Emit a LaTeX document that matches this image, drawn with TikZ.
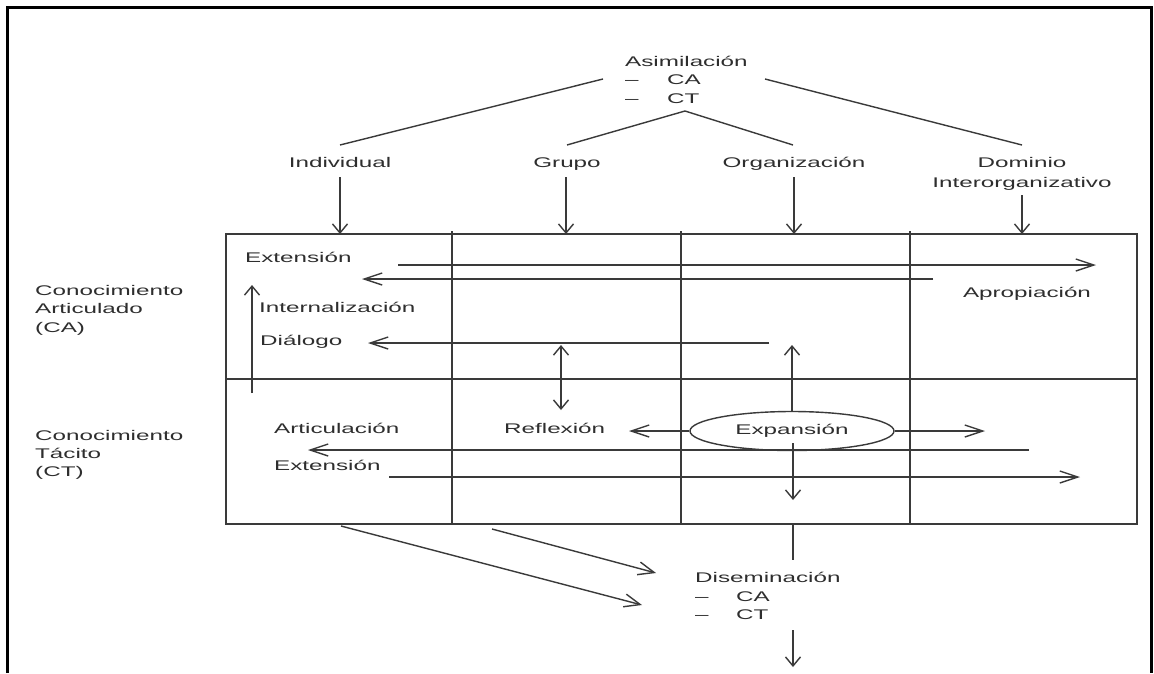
\documentclass[tikz,border=0pt]{standalone}
\usepackage{fontspec}
\setmainfont{Liberation Sans}[FakeStretch=1.73]
\usetikzlibrary{arrows.meta,shapes.geometric}
\definecolor{ink}{HTML}{2E2E2E}
\definecolor{rule}{HTML}{3A3A3A}
\begin{document}
\begin{tikzpicture}[x=1pt,y=-1pt,
  lbl/.style={font=\fontsize{14}{18.5}\selectfont, text=ink, inner sep=0pt},
  grid/.style={draw=rule, line width=1.8pt},
  conn/.style={draw=rule, line width=1.4pt},
  varr/.style={conn, -{Straight Barb[length=9pt,width=15pt]}},
  harr/.style={conn, -{Straight Barb[length=18pt,width=12pt]}},
  hboth/.style={conn, {Straight Barb[length=9pt,width=15pt]}-{Straight Barb[length=9pt,width=15pt]}},
  darr/.style={conn, -{Straight Barb[length=16pt,width=13pt]}},
]
\useasboundingbox (0,0) rectangle (1154,673);
\fill[white] (0,0) rectangle (1154,673);

% outer frame, open at the bottom
\draw[line width=3pt, black] (7,673) -- (7,7) -- (1151.5,7) -- (1151.5,673);

% ---------- assimilation block ----------
\node[lbl, anchor=base west] (asim)  at (625,66)  {Asimilación};
\node[lbl, anchor=base west] (asimA) at (625,84.5){\makebox[42pt][l]{–}CA};
\node[lbl, anchor=base west] (asimT) at (625,103) {\makebox[42pt][l]{–}CT};

\coordinate (asimL) at (603,79);
\coordinate (asimR) at (765,79);
\coordinate (asimM) at (685,111);

% ---------- levels ----------
\node[lbl, anchor=base] (ind) at (340,167)  {Individual};
\node[lbl, anchor=base] (grp) at (567,167)  {Grupo};
\node[lbl, anchor=base] (org) at (794,167)  {Organización};
\node[lbl, anchor=base] (dom) at (1022,167) {Dominio};
\node[lbl, anchor=base] (domb) at (1022,187) {Interorganizativo};

\coordinate (indTop) at (340,145);
\coordinate (grpTop) at (567,145);
\coordinate (orgTop) at (793,145);
\coordinate (domTop) at (1022,145);

\draw[conn] (asimL) -- (indTop);
\draw[conn] (asimR) -- (domTop);
\draw[conn] (grpTop) -- (asimM) -- (orgTop);

% ---------- grid ----------
\coordinate (gNW) at (226,234);
\coordinate (gSE) at (1137,524);
\draw[grid] (gNW) rectangle (gSE);
\draw[grid] (226,379) -- (1137,379);
\foreach \gx in {452,681,910} \draw[grid] (\gx,231) -- (\gx,524);

% arrows from the levels into the grid
\coordinate (indA) at (340,177);  \coordinate (indB) at (340,234);
\coordinate (grpA) at (566,177);  \coordinate (grpB) at (566,234);
\coordinate (orgA) at (794,177);  \coordinate (orgB) at (794,234);
\coordinate (domA) at (1022,195); \coordinate (domB) at (1022,234);
\draw[varr] (indA) -- (indB);
\draw[varr] (grpA) -- (grpB);
\draw[varr] (orgA) -- (orgB);
\draw[varr] (domA) -- (domB);

% ---------- row labels ----------
\node[lbl, anchor=base west] (caA) at (35,295) {Conocimiento};
\node[lbl, anchor=base west] (caB) at (35,313) {Articulado};
\node[lbl, anchor=base west] (caC) at (35,332) {(CA)};
\node[lbl, anchor=base west] (ctA) at (35,440) {Conocimiento};
\node[lbl, anchor=base west] (ctB) at (35,458) {Tácito};
\node[lbl, anchor=base west] (ctC) at (35,476) {(CT)};

% ---------- articulated knowledge row ----------
\node[lbl, anchor=base west] (ext1) at (245,262) {Extensión};
\node[lbl, anchor=base west] (intl) at (259,312) {Internalización};
\node[lbl, anchor=base west] (dial) at (260,345) {Diálogo};
\node[lbl, anchor=base] (apro) at (1027,297) {Apropiación};

\coordinate (e1a) at (398,265);  \coordinate (e1b) at (1096,265);
\coordinate (e2a) at (933,279);  \coordinate (e2b) at (362,279);
\coordinate (upA) at (252,393);  \coordinate (upB) at (252,285);
\coordinate (dlA) at (769,343);  \coordinate (dlB) at (368,343);
\coordinate (rfA) at (561,345);  \coordinate (rfB) at (561,410);
\draw[harr] (e1a) -- (e1b);
\draw[harr] (e2a) -- (e2b);
\draw[varr] (upA) -- (upB);
\draw[harr] (dlA) -- (dlB);
\draw[hboth] (rfA) -- (rfB);

% ---------- tacit knowledge row ----------
\node[lbl, anchor=base west] (artc) at (274,433) {Articulación};
\node[lbl, anchor=base west] (ext2) at (274,470) {Extensión};
\node[lbl, anchor=base west] (refl) at (504,433) {Reflexión};

\node[lbl, ellipse, draw=rule, line width=1.4pt, minimum width=204pt,
      minimum height=39pt] (exp) at (792,431) {Expansión};

\coordinate (expU)  at (792,345);
\coordinate (expW)  at (629,431);
\coordinate (expE)  at (985,431);
\coordinate (expD0) at (793,443);
\coordinate (expD)  at (793,500);
\draw[varr] (exp.north) -- (expU);
\draw[harr] (exp.west) -- (expW);
\draw[harr] (exp.east) -- (expE);
\draw[varr] (expD0) -- (expD);

\coordinate (t1a) at (1029,450); \coordinate (t1b) at (308,450);
\coordinate (t2a) at (389,477);  \coordinate (t2b) at (1080,477);
\draw[harr] (t1a) -- (t1b);
\draw[harr] (t2a) -- (t2b);

% ---------- dissemination ----------
\node[lbl, anchor=base west] (dise)  at (695,582) {Diseminación};
\node[lbl, anchor=base west] (diseA) at (695,601) {\makebox[41pt][l]{–}CA};
\node[lbl, anchor=base west] (diseT) at (695,619) {\makebox[41pt][l]{–}CT};

\coordinate (b1a) at (341,526); \coordinate (b1b) at (642,605);
\coordinate (b2a) at (492,529); \coordinate (b2b) at (656,573);
\coordinate (vA)  at (793,524); \coordinate (vB)  at (793,560);
\coordinate (dnA) at (793,630); \coordinate (dnB) at (793,667);
\draw[darr] (b1a) -- (b1b);
\draw[darr] (b2a) -- (b2b);
\draw[conn] (vA) -- (vB);
\draw[varr] (dnA) -- (dnB);

\end{tikzpicture}
\end{document}
